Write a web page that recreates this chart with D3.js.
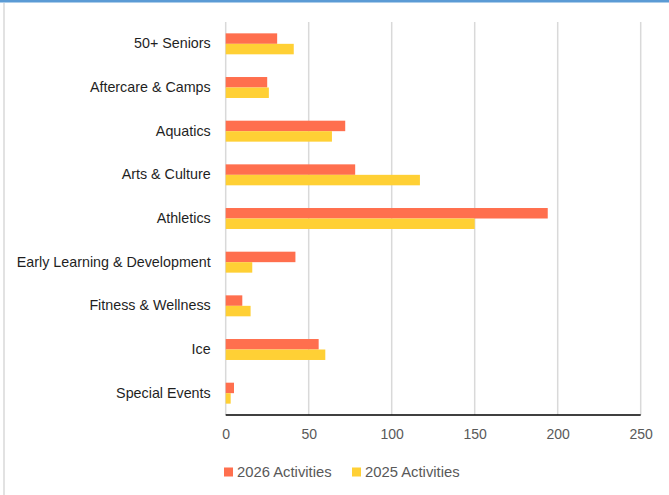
<!DOCTYPE html>
<meta charset="utf-8">
<style>
body { margin: 0; background: #fff; }
#yAxis path, #yAxis line { display: none; }
#xAxis path, #xAxis line { display: none; }
#yAxis text { font-size: 14.3px; font-family: "Liberation Sans", Arial, sans-serif; fill: #1f1f1f; }
#xAxis text { font-size: 14px; font-family: "Liberation Sans", Arial, sans-serif; fill: #595959; }
</style>
<html>
<body>
<div id="my_dataviz"></div>
<script src="https://d3js.org/d3.v7.min.js"></script>
<script>
var categories = ["50+ Seniors", "Aftercare & Camps", "Aquatics", "Arts & Culture", "Athletics",
  "Early Learning & Development", "Fitness & Wellness", "Ice", "Special Events"];
var activities2026 = [31, 25, 72, 78, 194, 42, 10, 56, 5];
var activities2025 = [41, 26, 64, 117, 150, 16, 15, 60, 3];
var seriesNames = ["2026 Activities", "2025 Activities"];
var seriesColors = ["#FF6F4E", "#FFD035"];
var xTicks = [0, 50, 100, 150, 200, 250];

var W = 669, H = 495;
var margin = {top: 22, left: 225.7, right: 28.3, bottom: 80};
var width = W - margin.left - margin.right,
    height = H - margin.top - margin.bottom;

var svgRoot = d3.select("#my_dataviz").append("svg")
  .attr("width", W).attr("height", H);

// outer frame
svgRoot.append("rect").attr("x", 0).attr("y", 0).attr("width", W).attr("height", 2.5).attr("fill", "#5B9BD5");
svgRoot.append("line").attr("x1", 4).attr("x2", 4).attr("y1", 3).attr("y2", H)
  .attr("stroke", "#D9D9D9").attr("stroke-width", 1.5);

var svg = svgRoot.append("g")
  .attr("transform", "translate(" + margin.left + "," + margin.top + ")");

var x = d3.scaleLinear().domain([0, 250]).range([0, width]);
var y = d3.scaleBand().domain(categories).range([0, height]).paddingInner(0.52).paddingOuter(0.26);
var ySub = d3.scaleBand().domain(seriesNames).range([0, y.bandwidth()]);

// gridlines
svg.selectAll(".grid").data(xTicks).enter().append("line")
  .attr("x1", d => x(d)).attr("x2", d => x(d))
  .attr("y1", 0).attr("y2", height)
  .attr("stroke", "#D9D9D9").attr("stroke-width", 1.5);

var data = categories.map((c, i) => ({cat: c, values: [activities2026[i], activities2025[i]]}));

var groups = svg.selectAll(".grp").data(data).enter().append("g")
  .attr("transform", d => "translate(0," + y(d.cat) + ")");
groups.selectAll("rect").data(d => d.values.map((v, j) => ({v: v, s: seriesNames[j], c: seriesColors[j]})))
  .enter().append("rect")
  .attr("x", x(0))
  .attr("y", d => ySub(d.s))
  .attr("width", d => x(d.v) - x(0))
  .attr("height", ySub.bandwidth())
  .attr("fill", d => d.c);

// baseline axis
svg.append("line").attr("x1", x(0)).attr("x2", x(250)).attr("y1", height).attr("y2", height)
  .attr("stroke", "#000").attr("stroke-width", 1.5);

svg.append("g").attr("id", "xAxis")
  .attr("transform", "translate(0," + height + ")")
  .call(d3.axisBottom(x).tickValues(xTicks).tickSize(0).tickPadding(14));

svg.append("g").attr("id", "yAxis")
  .call(d3.axisLeft(y).tickSize(0).tickPadding(15));

// legend
var legend = svgRoot.append("g").attr("transform", "translate(224,472)");
var items = [{x: 0}, {x: 128}];
seriesNames.forEach(function(name, i) {
  var g = legend.append("g").attr("transform", "translate(" + items[i].x + ",0)");
  g.append("rect").attr("x", 0).attr("y", -4.5).attr("width", 9).attr("height", 9).attr("fill", seriesColors[i]);
  g.append("text").attr("x", 13).attr("y", 0).attr("dy", "0.35em")
    .style("font-family", "Liberation Sans, Arial, sans-serif").style("font-size", "14.8px")
    .style("fill", "#595959").text(name);
});
</script>
</body>
</html>
